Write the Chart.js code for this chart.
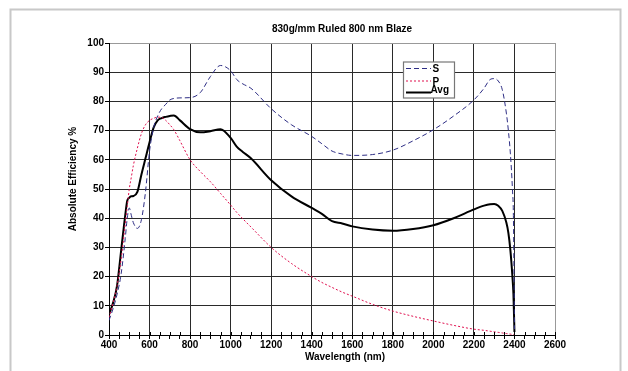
<!DOCTYPE html>
<html>
<head>
<meta charset="utf-8">
<title>830g/mm Ruled 800 nm Blaze</title>
<script src="https://cdn.jsdelivr.net/npm/chart.js@4.4.0/dist/chart.umd.min.js"></script>
<style>
  html, body { margin: 0; padding: 0; background: #fff; }
  canvas { display: block; }
</style>
</head>
<body>
<canvas id="effChart" width="628" height="371"></canvas>
<script>
// wavelength samples (nm) shared by all three curves
const wavelengths = [400, 420, 440, 460, 480, 490, 500, 510, 520, 540, 560, 580, 600, 620, 640, 660, 680, 700, 720, 750,
  800, 850, 900, 950, 1000, 1030, 1060, 1100, 1200, 1300, 1400, 1450, 1500, 1550, 1600, 1700, 1800, 1900, 2000, 2100,
  2200, 2250, 2280, 2300, 2320, 2340, 2360, 2370, 2380, 2390, 2395, 2400];

const sValues = [5, 9, 14, 21, 33, 40, 43.5, 41, 38.5, 36.5, 39.5, 49, 63, 71, 75, 77.5, 79, 80.5, 81, 81.2,
  81.3, 83, 88.5, 92.3, 90.5, 87.5, 86, 84.5, 77.5, 72, 68, 65.5, 63, 62, 61.5, 61.8, 63.3, 66.5, 70.3, 75,
  80.5, 84.5, 87.5, 87.8, 87, 84, 76, 70, 62, 50, 40, 2];

const pValues = [6, 11, 17, 26, 38, 44, 50, 54, 58, 64, 69, 72, 73.5, 74.2, 74.6, 74.5, 73.5, 72, 70.3, 66.5,
  60, 56, 52.5, 48.5, 44.5, 42, 39.8, 37, 30, 24.5, 20, 18, 16.3, 14.7, 13.3, 10.5, 8.2, 6.4, 4.8, 3.3,
  2, 1.6, 1.3, 1.1, 0.9, 0.7, 0.5, 0.4, 0.3, 0.2, 0.2, 0.1];

const avgValues = [7, 11, 17, 29, 41, 46, 47, 47.5, 47.6, 49, 55, 60.5, 66, 71, 73.5, 74.3, 74.7, 75, 75.2, 73.5,
  70.5, 69.4, 69.8, 70.5, 67.5, 64.5, 62.7, 60.5, 53, 47.5, 43.5, 41.5, 39, 38.2, 37.2, 36.1, 35.7, 36.3, 37.6, 40,
  43, 44.3, 44.8, 44.9, 44.3, 42.5, 38.5, 35, 29, 20, 14, 1];

const seriesNames = ['S', 'P', 'Avg'];
const chartTitle = '830g/mm Ruled 800 nm Blaze';
const xTitle = 'Wavelength (nm)';
const yTitle = 'Absolute Efficiency %';

const FONT = "'Liberation Sans', Arial, Helvetica, sans-serif";

function toPoints(values) {
  return wavelengths.map((w, i) => ({ x: w, y: values[i] }));
}

// frame, titles and the boxed legend, drawn the way the original sheet lays them out
const decorPlugin = {
  id: 'decor',
  beforeDraw(chart) {
    const ctx = chart.ctx;
    ctx.save();
    ctx.fillStyle = '#fff';
    ctx.fillRect(0, 0, chart.width, chart.height);
    ctx.strokeStyle = '#c8c8c8';
    ctx.lineWidth = 2;
    ctx.strokeRect(10.5, 9.5, 610, 400);
    ctx.restore();
  },
  afterDraw(chart) {
    const ctx = chart.ctx;
    ctx.save();

    // x ticks cross the axis line: add the part above it
    const xs = chart.scales.x;
    const axisY = chart.chartArea.bottom;
    ctx.strokeStyle = '#000';
    ctx.lineWidth = 1;
    xs.ticks.forEach((t) => {
      const px = Math.round(xs.getPixelForValue(t.value)) + 0.5;
      ctx.beginPath();
      ctx.moveTo(px, axisY - 3);
      ctx.lineTo(px, axisY);
      ctx.stroke();
    });

    ctx.fillStyle = '#000';
    ctx.font = 'bold 10px ' + FONT;
    ctx.textAlign = 'center';
    ctx.textBaseline = 'middle';
    ctx.fillText(chartTitle, 342, 29);
    ctx.fillText(xTitle, 345, 357);
    ctx.save();
    ctx.translate(73, 179);
    ctx.rotate(-Math.PI / 2);
    ctx.fillText(yTitle, 0, 0);
    ctx.restore();

    // legend box
    ctx.fillStyle = '#fff';
    ctx.fillRect(403.5, 62, 51, 36);
    ctx.strokeStyle = '#777';
    ctx.lineWidth = 1.2;
    ctx.strokeRect(403.5, 62, 51, 36);
    const rowY = [68.5, 81, 92.5];
    const textY = [72, 84.5, 93];
    chart.data.datasets.forEach((ds, i) => {
      ctx.beginPath();
      ctx.strokeStyle = ds.borderColor;
      ctx.lineWidth = ds.borderWidth;
      ctx.setLineDash(ds.borderDash || []);
      ctx.moveTo(406, rowY[i]);
      ctx.lineTo(431, rowY[i]);
      ctx.stroke();
      ctx.setLineDash([]);
      ctx.fillStyle = '#000';
      ctx.textAlign = 'left';
      ctx.textBaseline = 'alphabetic';
      ctx.fillText(ds.label, i === 2 ? 430.5 : 432.5, textY[i]);
    });
    ctx.restore();
  }
};

Chart.defaults.font.family = FONT;
Chart.defaults.font.size = 10;
Chart.defaults.font.weight = 'bold';
Chart.defaults.color = '#000';

const ctx = document.getElementById('effChart').getContext('2d');
const effChart = new Chart(ctx, {
  type: 'line',
  data: {
    datasets: [
      {
        label: seriesNames[0],
        data: toPoints(sValues),
        borderColor: '#2e2e85',
        borderWidth: 1,
        borderDash: [5, 3],
        pointRadius: 0,
        cubicInterpolationMode: 'monotone',
        fill: false
      },
      {
        label: seriesNames[1],
        data: toPoints(pValues),
        borderColor: '#e0104f',
        borderWidth: 1,
        borderDash: [2, 2],
        pointRadius: 0,
        cubicInterpolationMode: 'monotone',
        fill: false
      },
      {
        label: seriesNames[2],
        data: toPoints(avgValues),
        borderColor: '#000',
        borderWidth: 2,
        pointRadius: 0,
        cubicInterpolationMode: 'monotone',
        fill: false
      }
    ]
  },
  options: {
    responsive: false,
    animation: false,
    layout: { padding: { top: 43, right: 73, left: 0, bottom: 0 } },
    plugins: {
      legend: { display: false },
      title: { display: false },
      tooltip: { enabled: false }
    },
    scales: {
      x: {
        type: 'linear',
        min: 400,
        max: 2600,
        afterFit: (scale) => { scale.height = 36; },
        border: { color: '#000', width: 1 },
        grid: {
          color: (c) => {
            const v = c.tick.value;
            if (v % 200 !== 0) return 'rgba(0,0,0,0)';
            return v === 2600 ? '#999' : '#2a2a2a';
          },
          tickColor: '#000',
          tickLength: 4,
          lineWidth: 1
        },
        ticks: {
          stepSize: 50,
          autoSkip: false,
          maxRotation: 0,
          padding: 0,
          callback: (v) => (v % 200 === 0 ? String(v) : '')
        }
      },
      y: {
        min: 0,
        max: 100,
        afterFit: (scale) => { scale.width = 109; },
        border: { color: '#000', width: 1 },
        grid: {
          color: (c) => (c.tick.value === 100 ? '#999' : '#2a2a2a'),
          tickColor: '#000',
          tickLength: 4,
          lineWidth: 1
        },
        ticks: {
          stepSize: 10,
          padding: 1
        }
      }
    }
  },
  plugins: [decorPlugin]
});
</script>
</body>
</html>
